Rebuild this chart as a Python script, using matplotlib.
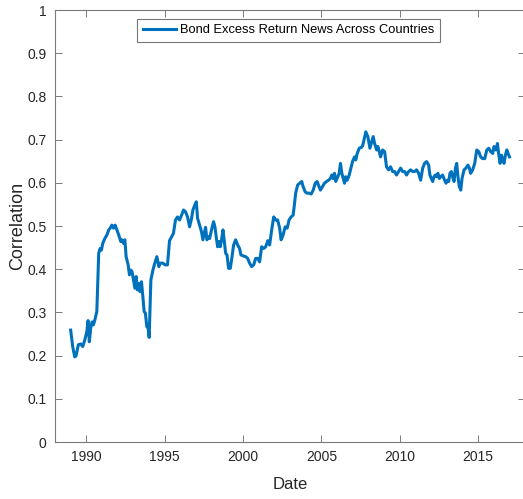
import matplotlib
matplotlib.use("Agg")
import matplotlib.pyplot as plt
import numpy as np

plt.rcParams['font.family'] = ['Liberation Sans', 'DejaVu Sans']

series_label = "Bond Excess Return News Across Countries"
x_label = "Date"
y_label = "Correlation"
x_ticks = [1990, 1995, 2000, 2005, 2010, 2015]
y_ticks = [0, 0.1, 0.2, 0.3, 0.4, 0.5, 0.6, 0.7, 0.8, 0.9, 1.0]
y_tick_labels = ["0", "0.1", "0.2", "0.3", "0.4", "0.5", "0.6", "0.7", "0.8", "0.9", "1"]

dates = [
    1989.00, 1989.13, 1989.26, 1989.34, 1989.49, 1989.64, 1989.77, 1989.90, 1990.03, 1990.11,
    1990.19, 1990.28, 1990.37, 1990.45, 1990.54, 1990.67, 1990.79, 1990.88, 1990.96, 1991.05,
    1991.18, 1991.31, 1991.43, 1991.52, 1991.63, 1991.73, 1991.84, 1991.95, 1992.07, 1992.20,
    1992.28, 1992.37, 1992.46, 1992.54, 1992.67, 1992.75, 1992.84, 1992.92, 1993.01, 1993.10,
    1993.18, 1993.26, 1993.35, 1993.43, 1993.52, 1993.61, 1993.69, 1993.77, 1993.86, 1993.95,
    1994.01, 1994.12, 1994.25, 1994.37, 1994.50, 1994.63, 1994.71, 1994.89, 1995.03, 1995.18,
    1995.31, 1995.44, 1995.56, 1995.69, 1995.82, 1995.95, 1996.08, 1996.20, 1996.33, 1996.46,
    1996.59, 1996.72, 1996.80, 1996.93, 1997.02, 1997.10, 1997.23, 1997.35, 1997.44, 1997.53,
    1997.61, 1997.70, 1997.78, 1997.87, 1997.99, 1998.12, 1998.21, 1998.29, 1998.38, 1998.47,
    1998.55, 1998.63, 1998.72, 1998.81, 1998.89, 1998.98, 1999.08, 1999.19, 1999.30, 1999.40,
    1999.53, 1999.66, 1999.78, 1999.87, 2000.00, 2000.17, 2000.30, 2000.42, 2000.55, 2000.68,
    2000.81, 2000.94, 2001.06, 2001.19, 2001.32, 2001.45, 2001.58, 2001.70, 2001.83, 2001.96,
    2002.09, 2002.21, 2002.34, 2002.43, 2002.56, 2002.69, 2002.82, 2002.94, 2003.07, 2003.20,
    2003.28, 2003.36, 2003.49, 2003.62, 2003.75, 2003.84, 2003.97, 2004.09, 2004.22, 2004.35,
    2004.48, 2004.61, 2004.73, 2004.86, 2004.94, 2005.07, 2005.20, 2005.33, 2005.46, 2005.58,
    2005.67, 2005.76, 2005.84, 2005.92, 2006.05, 2006.14, 2006.22, 2006.31, 2006.40, 2006.48,
    2006.56, 2006.65, 2006.78, 2006.91, 2006.99, 2007.12, 2007.20, 2007.29, 2007.42, 2007.55,
    2007.63, 2007.71, 2007.84, 2007.97, 2008.10, 2008.22, 2008.31, 2008.40, 2008.53, 2008.61,
    2008.70, 2008.78, 2008.91, 2009.04, 2009.16, 2009.29, 2009.42, 2009.55, 2009.68, 2009.80,
    2009.93, 2010.06, 2010.19, 2010.32, 2010.44, 2010.57, 2010.70, 2010.83, 2010.95, 2011.08,
    2011.21, 2011.34, 2011.47, 2011.59, 2011.72, 2011.85, 2011.93, 2012.02, 2012.11, 2012.19,
    2012.28, 2012.36, 2012.44, 2012.53, 2012.62, 2012.74, 2012.87, 2012.96, 2013.05, 2013.13,
    2013.21, 2013.30, 2013.38, 2013.47, 2013.56, 2013.64, 2013.72, 2013.81, 2013.90, 2013.98,
    2014.11, 2014.23, 2014.36, 2014.45, 2014.53, 2014.66, 2014.79, 2014.92, 2015.05, 2015.17,
    2015.30, 2015.43, 2015.56, 2015.69, 2015.81, 2015.94, 2016.02, 2016.15, 2016.24, 2016.33,
    2016.41, 2016.50, 2016.58, 2016.66, 2016.75, 2016.84, 2016.92, 2017.01,
]

correlation = [
    0.259, 0.221, 0.197, 0.199, 0.225, 0.227, 0.221, 0.236, 0.255, 0.281,
    0.232, 0.264, 0.278, 0.271, 0.282, 0.302, 0.437, 0.448, 0.444, 0.460,
    0.471, 0.479, 0.491, 0.495, 0.502, 0.495, 0.502, 0.491, 0.479, 0.464,
    0.468, 0.460, 0.468, 0.429, 0.410, 0.387, 0.398, 0.394, 0.375, 0.356,
    0.383, 0.352, 0.367, 0.348, 0.371, 0.336, 0.302, 0.298, 0.267, 0.263,
    0.242, 0.375, 0.398, 0.414, 0.429, 0.406, 0.414, 0.414, 0.410, 0.410,
    0.466, 0.475, 0.483, 0.514, 0.521, 0.514, 0.525, 0.537, 0.533, 0.521,
    0.498, 0.518, 0.537, 0.549, 0.556, 0.518, 0.502, 0.487, 0.468, 0.483,
    0.497, 0.468, 0.475, 0.471, 0.491, 0.510, 0.498, 0.475, 0.452, 0.464,
    0.452, 0.468, 0.491, 0.464, 0.437, 0.433, 0.402, 0.402, 0.429, 0.456,
    0.468, 0.456, 0.448, 0.433, 0.431, 0.429, 0.425, 0.414, 0.406, 0.410,
    0.425, 0.425, 0.417, 0.452, 0.448, 0.452, 0.466, 0.456, 0.491, 0.521,
    0.514, 0.514, 0.495, 0.468, 0.479, 0.498, 0.495, 0.514, 0.521, 0.525,
    0.549, 0.576, 0.595, 0.599, 0.603, 0.591, 0.579, 0.576, 0.576, 0.574,
    0.583, 0.599, 0.603, 0.591, 0.583, 0.591, 0.599, 0.603, 0.606, 0.610,
    0.618, 0.610, 0.622, 0.603, 0.614, 0.622, 0.645, 0.622, 0.610, 0.599,
    0.614, 0.606, 0.618, 0.637, 0.649, 0.660, 0.653, 0.668, 0.680, 0.682,
    0.685, 0.697, 0.718, 0.707, 0.680, 0.695, 0.707, 0.691, 0.676, 0.684,
    0.672, 0.660, 0.676, 0.672, 0.637, 0.630, 0.637, 0.626, 0.626, 0.618,
    0.626, 0.634, 0.626, 0.626, 0.618, 0.626, 0.630, 0.626, 0.626, 0.630,
    0.622, 0.606, 0.634, 0.645, 0.649, 0.641, 0.618, 0.610, 0.603, 0.614,
    0.618, 0.614, 0.622, 0.610, 0.614, 0.618, 0.606, 0.599, 0.606, 0.603,
    0.622, 0.626, 0.614, 0.603, 0.634, 0.645, 0.614, 0.591, 0.583, 0.610,
    0.630, 0.634, 0.641, 0.634, 0.622, 0.630, 0.645, 0.676, 0.672, 0.660,
    0.656, 0.656, 0.676, 0.680, 0.672, 0.668, 0.684, 0.676, 0.691, 0.664,
    0.645, 0.664, 0.653, 0.645, 0.664, 0.676, 0.668, 0.660,
]

axis_color = '#262626'
spine_color = '#7a7a7a'

W, H = 523, 499
fig = plt.figure(figsize=(W / 100, H / 100), dpi=100)
# right spine sits just outside the canvas, as in the reference
ax = fig.add_axes([55 / W, 1 - 442 / H, 470 / W, 432 / H])

ax.plot(dates, correlation, color='#0072BD', lw=2.2, label=series_label,
        solid_joinstyle='round')

ax.set_xlim(1988, 2018)
ax.set_ylim(0, 1)
ax.set_xticks(x_ticks)
ax.set_xticklabels([str(t) for t in x_ticks])
ax.set_yticks(y_ticks)
ax.set_yticklabels(y_tick_labels)

ax.tick_params(axis='both', direction='in', length=5, width=0.7,
               color=spine_color, labelcolor=axis_color, labelsize=10,
               top=True, right=True, pad=6)
for s in ax.spines.values():
    s.set_color(spine_color)
    s.set_linewidth(0.8)

ax.set_xlabel(x_label, fontsize=12, color=axis_color, labelpad=9)
ax.set_ylabel(y_label, fontsize=13, color=axis_color)
ax.yaxis.set_label_coords(-0.062, 0.5)

leg = ax.legend(loc='upper center', bbox_to_anchor=(0.497, 0.98), fontsize=9.3,
                frameon=True, fancybox=False, handlelength=2.6, handletextpad=0.3,
                borderpad=0.45, borderaxespad=0)
leg.get_frame().set_edgecolor('#555555')
leg.get_frame().set_linewidth(0.8)
for t in leg.get_texts():
    t.set_color('#000000')

fig.savefig('out.png', dpi=100)
